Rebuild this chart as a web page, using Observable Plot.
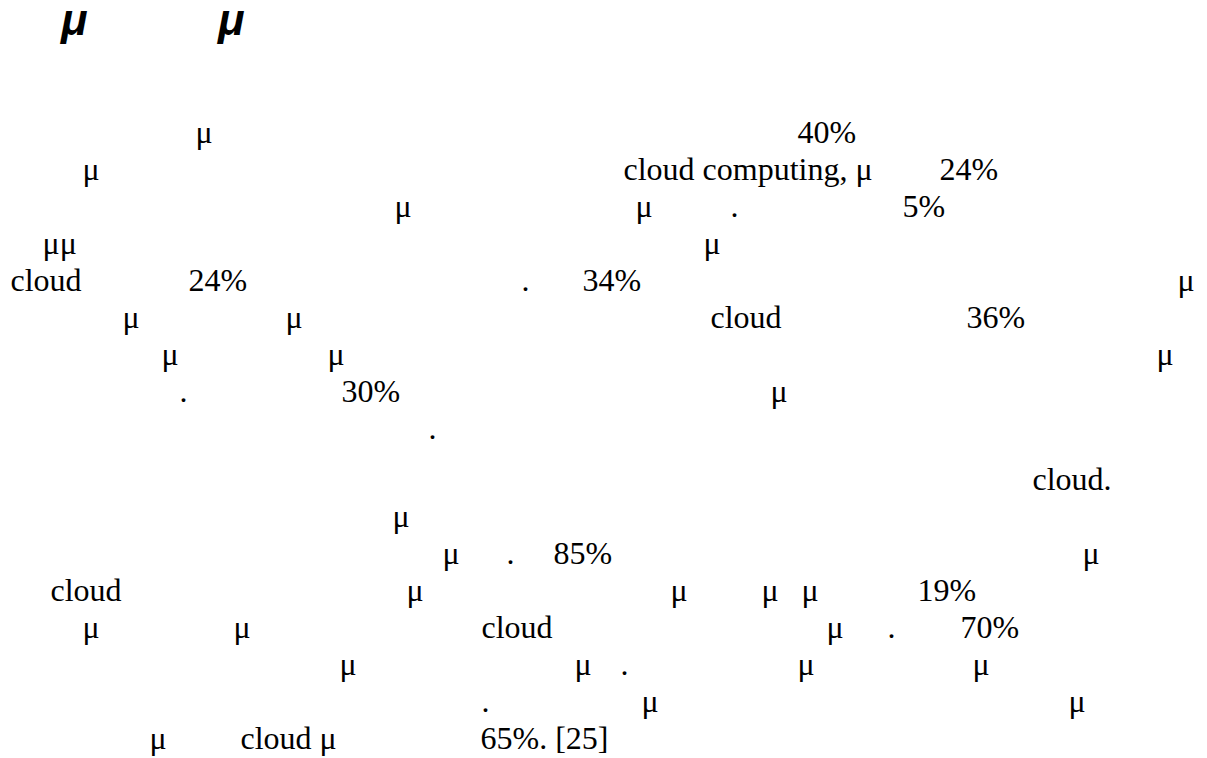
<!DOCTYPE html>
<html>
<head>
<meta charset="utf-8">
<script src="https://cdn.jsdelivr.net/npm/d3@7"></script>
<script src="https://cdn.jsdelivr.net/npm/@observablehq/plot@0.6"></script>
<style>
  html, body { margin: 0; padding: 0; background: #ffffff; }
  #page { position: relative; width: 1207px; height: 758px; }
  #heading { position: absolute; left: 0; top: 0; width: 1207px; height: 44px; z-index: 2; }
  #heading span {
    position: absolute; top: -1px; line-height: 41px;
    font-family: "Liberation Sans", Arial, "DejaVu Sans", sans-serif;
    font-size: 44px; font-weight: bold; font-style: italic; color: #000000;
  }
  #chart svg { display: block; }
  #chart svg text {
    font-family: "Liberation Serif", "Times New Roman", Tinos, serif;
  }
</style>
</head>
<body>
<div id="page">
  <div id="heading"></div>
  <div id="chart"></div>
</div>
<script>
// Heading glyphs (the only glyphs of the heading that rendered)
const titleGlyphs = ["μ", "μ"];
const titleCols = [61, 218];

// Body text tokens: text line (in line units, second paragraph after a gap),
// horizontal column on the page, and the visible text
const rows = [
  0, 0,
  1, 1, 1,
  2, 2, 2, 2,
  3, 3,
  4, 4, 4, 4, 4,
  5, 5, 5, 5,
  6, 6, 6,
  7, 7, 7,
  8,
  9.4,
  10.4,
  11.4, 11.4, 11.4, 11.4,
  12.4, 12.4, 12.4, 12.4, 12.4, 12.4,
  13.4, 13.4, 13.4, 13.4, 13.4, 13.4,
  14.4, 14.4, 14.4, 14.4, 14.4,
  15.4, 15.4, 15.4,
  16.4, 16.4, 16.4
];
const cols = [
  195, 797,
  82, 623, 939,
  394, 635, 730, 902,
  42, 703,
  10, 188, 521, 582, 1177,
  122, 285, 710, 966,
  161, 327, 1156,
  179, 341, 770,
  428,
  1032,
  392,
  442, 506, 553, 1082,
  50, 406, 670, 761, 801, 917,
  82, 233, 481, 826, 887, 960,
  339, 574, 620, 797, 972,
  481, 641, 1068,
  149, 240, 480
];
const words = [
  "μ", "40%",
  "μ", "cloud computing, μ", "24%",
  "μ", "μ", ".", "5%",
  "μμ", "μ",
  "cloud", "24%", ".", "34%", "μ",
  "μ", "μ", "cloud", "36%",
  "μ", "μ", "μ",
  ".", "30%", "μ",
  ".",
  "cloud.",
  "μ",
  "μ", ".", "85%", "μ",
  "cloud", "μ", "μ", "μ", "μ", "19%",
  "μ", "μ", "cloud", "μ", ".", "70%",
  "μ", "μ", ".", "μ", "μ",
  ".", "μ", "μ",
  "μ", "cloud μ", "65%. [25]"
];

// Heading as real text above the plot area
const headingEl = document.getElementById("heading");
titleGlyphs.forEach((t, i) => {
  const s = document.createElement("span");
  s.textContent = t;
  s.style.left = titleCols[i] + "px";
  headingEl.appendChild(s);
});

const body = words.map((t, i) => ({text: t, row: rows[i], col: cols[i]}));

const chart = Plot.plot({
  width: 1207,
  height: 758,
  margin: 0,
  style: {background: "#ffffff"},
  x: {type: "linear", domain: [0, 1207], range: [0, 1207], axis: null},
  y: {type: "linear", domain: [0, 17], range: [142, 142 + 17 * 37], axis: null},
  marks: [
    Plot.text(body, {
      x: "col", y: "row", text: "text",
      textAnchor: "start", lineAnchor: "bottom",
      fontFamily: "Liberation Serif",
      fontSize: 32,
      fill: "#000000"
    })
  ]
});
document.getElementById("chart").appendChild(chart);
</script>
</body>
</html>
